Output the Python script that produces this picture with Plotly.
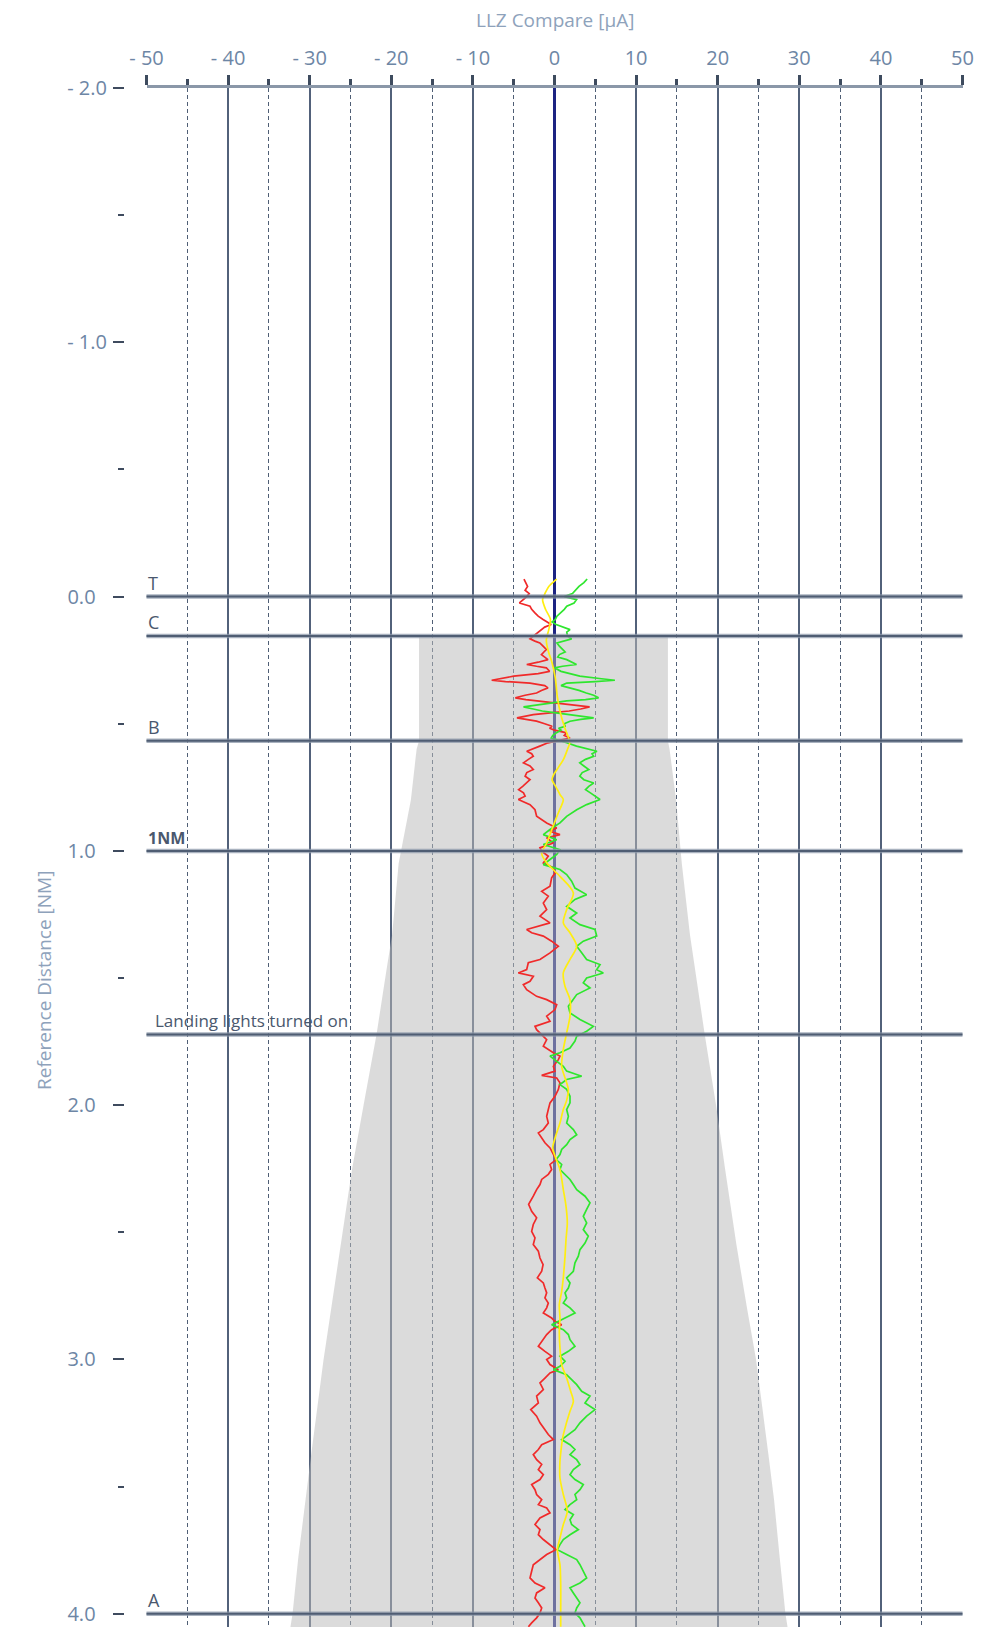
import plotly.graph_objects as go

# ---------------- data ----------------
x_ticks = [-50, -40, -30, -20, -10, 0, 10, 20, 30, 40, 50]
x_tick_labels = ["- 50", "- 40", "- 30", "- 20", "- 10", "0", "10", "20", "30", "40", "50"]
x_minor = [-45, -35, -25, -15, -5, 5, 15, 25, 35, 45]
y_ticks = [-2, -1, 0, 1, 2, 3, 4]
y_tick_labels = ["- 2.0", "- 1.0", "0.0\u2007", "1.0\u2007", "2.0\u2007", "3.0\u2007", "4.0\u2007"]
y_minor = [-1.5, -0.5, 0.5, 1.5, 2.5, 3.5]

marker_dist = [0.0, 0.155, 0.567, 1.0, 1.722, 4.0]
marker_labels = ["T", "C", "B", "<b>1NM</b>", "Landing lights turned on", "A"]

center_dist = [-2.0, 4.06]
center_value = [0, 0]

envelope_dist = [0.155, 0.567, 0.600, 0.800, 1.050, 1.330, 1.470, 1.720, 2.000, 2.250,
                 2.550, 2.800, 3.000, 3.370, 3.550, 3.780, 4.000, 4.060]
envelope_left = [-16.6, -16.6, -16.9, -17.6, -19.1, -19.9, -20.6, -21.8, -23.4, -24.8,
                 -26.2, -27.4, -28.3, -29.8, -30.5, -31.4, -32.1, -32.4]
envelope_right = [13.9, 13.9, 14.1, 14.9, 15.6, 16.6, 17.3, 18.4, 19.8, 20.9,
                  22.3, 23.6, 24.7, 26.2, 26.9, 27.6, 28.3, 28.6]

red_dist = [-0.069, -0.055, -0.040, -0.025, -0.012, 0.000, 0.012, 0.025, 0.038, 0.050,
            0.064, 0.077, 0.090, 0.100, 0.110, 0.120, 0.130, 0.140, 0.156, 0.166,
            0.175, 0.182, 0.195, 0.208, 0.218, 0.228, 0.238, 0.248, 0.258, 0.267,
            0.274, 0.280, 0.294, 0.303, 0.313, 0.322, 0.329, 0.334, 0.340, 0.350,
            0.359, 0.369, 0.379, 0.388, 0.398, 0.405, 0.410, 0.418, 0.425, 0.434,
            0.442, 0.450, 0.457, 0.464, 0.477, 0.483, 0.490, 0.500, 0.510, 0.518,
            0.525, 0.536, 0.546, 0.556, 0.565, 0.575, 0.588, 0.598, 0.608, 0.618,
            0.628, 0.640, 0.654, 0.666, 0.680, 0.692, 0.706, 0.720, 0.733, 0.746,
            0.759, 0.772, 0.785, 0.798, 0.818, 0.838, 0.864, 0.890, 0.910, 0.923,
            0.936, 0.949, 0.969, 0.988, 1.001, 1.021, 1.047, 1.067, 1.087, 1.106,
            1.139, 1.159, 1.178, 1.205, 1.231, 1.257, 1.283, 1.309, 1.322, 1.335,
            1.355, 1.375, 1.401, 1.427, 1.440, 1.467, 1.480, 1.493, 1.513, 1.526,
            1.546, 1.572, 1.585, 1.605, 1.624, 1.650, 1.670, 1.690, 1.703, 1.722,
            1.742, 1.768, 1.794, 1.807, 1.821, 1.847, 1.866, 1.883, 1.893, 1.912,
            1.938, 1.965, 1.991, 2.017, 2.044, 2.070, 2.096, 2.109, 2.129, 2.148,
            2.168, 2.187, 2.214, 2.233, 2.253, 2.272, 2.292, 2.312, 2.332, 2.358,
            2.390, 2.417, 2.443, 2.469, 2.496, 2.522, 2.548, 2.574, 2.601, 2.627,
            2.653, 2.679, 2.699, 2.719, 2.738, 2.758, 2.778, 2.797, 2.817, 2.837,
            2.850, 2.863, 2.883, 2.902, 2.922, 2.948, 2.968, 2.987, 3.000, 3.020,
            3.040, 3.053, 3.073, 3.092, 3.118, 3.144, 3.171, 3.197, 3.223, 3.249,
            3.276, 3.295, 3.315, 3.335, 3.354, 3.374, 3.394, 3.413, 3.433, 3.453,
            3.472, 3.492, 3.512, 3.531, 3.551, 3.571, 3.584, 3.603, 3.623, 3.649,
            3.669, 3.689, 3.708, 3.728, 3.748, 3.767, 3.787, 3.807, 3.833, 3.859,
            3.879, 3.898, 3.918, 3.938, 3.957, 3.977, 3.997, 4.016, 4.036, 4.051]
red_value = [-3.74, -3.50, -3.30, -3.60, -3.10, -3.40, -3.82, -4.30, -3.00, -2.80,
             -2.40, -2.00, -1.40, -0.90, -0.40, -1.20, -1.60, -2.00, -2.50, -3.00,
             -2.40, -1.80, -1.40, -1.00, -1.30, -1.60, -1.20, -0.80, -2.00, -3.40,
             -2.20, -1.00, -0.60, -2.00, -5.00, -6.80, -7.70, -6.00, -3.00, -1.20,
             -0.80, -1.60, -2.20, -3.60, -4.80, -3.50, -2.20, -0.50, 1.50, 4.30,
             3.20, 1.80, -0.50, -2.60, -4.60, -3.40, -2.20, -1.20, -0.30, -0.60,
             0.00, 1.50, 1.20, 1.90, 0.50, -0.80, -1.80, -2.60, -3.40, -2.80,
             -2.60, -3.20, -3.80, -3.00, -2.60, -3.40, -3.60, -3.00, -3.40, -3.90,
             -4.40, -3.80, -3.60, -4.43, -3.00, -2.39, -2.19, -0.96, 0.27, -0.55,
             0.67, -0.96, -0.14, -1.78, -1.57, -0.76, -1.37, -0.14, 0.06, -0.35,
             -0.55, -1.57, -0.76, -1.37, -0.96, -1.78, -0.55, -3.41, -2.80, -1.37,
             -0.35, 0.47, -0.55, -1.78, -3.21, -3.41, -4.43, -2.59, -3.00, -3.82,
             -3.41, -2.19, -0.96, 0.27, 0.06, -0.96, -0.55, -2.39, -2.19, -1.57,
             -0.96, -1.37, -0.14, 0.67, 0.47, -0.14, 0.06, -1.57, 0.27, 0.67,
             0.47, 0.06, -0.55, -0.76, -0.96, -0.76, -1.37, -1.98, -1.57, -1.17,
             -0.55, -0.22, 0.20, -0.55, -0.35, -0.76, -1.57, -1.78, -2.19, -2.60,
             -3.17, -2.80, -2.19, -2.60, -2.80, -2.39, -2.60, -1.98, -1.78, -1.40,
             -1.57, -2.10, -1.37, -1.17, -0.96, -1.17, -0.76, -0.96, -1.37, -0.35,
             0.06, 0.88, -0.35, -0.96, -1.37, -1.98, -1.17, -0.35, -0.96, -0.55,
             0.47, -0.55, -1.17, -1.78, -1.37, -2.19, -1.98, -2.91, -2.19, -1.78,
             -1.17, -0.76, -0.14, -1.57, -1.98, -2.60, -2.19, -1.57, -1.98, -1.37,
             -1.78, -2.80, -2.39, -2.19, -1.57, -1.98, -0.96, -0.55, -1.78, -2.39,
             -1.78, -1.98, -1.37, -0.55, 0.18, -0.96, -1.78, -2.60, -2.80, -3.00,
             -2.39, -1.17, -2.19, -2.39, -1.98, -1.57, -1.78, -2.19, -2.80, -3.20]

green_dist = [-0.069, -0.055, -0.040, -0.025, -0.012, 0.000, 0.012, 0.025, 0.038, 0.050,
              0.064, 0.077, 0.090, 0.100, 0.110, 0.120, 0.130, 0.140, 0.156, 0.166,
              0.175, 0.182, 0.195, 0.208, 0.218, 0.228, 0.238, 0.248, 0.258, 0.267,
              0.274, 0.280, 0.294, 0.303, 0.313, 0.322, 0.329, 0.334, 0.340, 0.350,
              0.359, 0.369, 0.379, 0.388, 0.398, 0.405, 0.410, 0.418, 0.425, 0.434,
              0.442, 0.450, 0.457, 0.464, 0.477, 0.483, 0.490, 0.500, 0.510, 0.518,
              0.525, 0.536, 0.546, 0.556, 0.565, 0.575, 0.588, 0.598, 0.608, 0.618,
              0.628, 0.640, 0.654, 0.666, 0.680, 0.692, 0.706, 0.720, 0.733, 0.746,
              0.759, 0.772, 0.785, 0.798, 0.818, 0.838, 0.864, 0.890, 0.916, 0.936,
              0.956, 0.975, 0.995, 1.014, 1.034, 1.054, 1.073, 1.093, 1.119, 1.146,
              1.172, 1.191, 1.218, 1.244, 1.264, 1.290, 1.309, 1.335, 1.355, 1.375,
              1.401, 1.427, 1.447, 1.467, 1.480, 1.500, 1.519, 1.539, 1.565, 1.592,
              1.611, 1.637, 1.663, 1.690, 1.709, 1.729, 1.748, 1.775, 1.794, 1.807,
              1.827, 1.847, 1.866, 1.886, 1.899, 1.919, 1.938, 1.965, 1.991, 2.017,
              2.044, 2.070, 2.096, 2.116, 2.135, 2.155, 2.174, 2.194, 2.214, 2.233,
              2.253, 2.272, 2.292, 2.312, 2.332, 2.358, 2.384, 2.410, 2.437, 2.463,
              2.489, 2.515, 2.542, 2.568, 2.594, 2.620, 2.653, 2.679, 2.699, 2.719,
              2.738, 2.758, 2.778, 2.797, 2.817, 2.837, 2.850, 2.863, 2.883, 2.902,
              2.922, 2.948, 2.968, 2.987, 3.007, 3.027, 3.040, 3.060, 3.079, 3.099,
              3.125, 3.144, 3.171, 3.197, 3.223, 3.249, 3.276, 3.295, 3.315, 3.335,
              3.354, 3.374, 3.394, 3.413, 3.433, 3.453, 3.472, 3.492, 3.512, 3.531,
              3.551, 3.571, 3.590, 3.610, 3.630, 3.649, 3.669, 3.689, 3.708, 3.728,
              3.748, 3.767, 3.787, 3.807, 3.833, 3.859, 3.879, 3.898, 3.918, 3.938,
              3.957, 3.977, 3.997, 4.016, 4.036, 4.051]
green_value = [4.00, 3.60, 3.00, 2.50, 2.20, 1.20, 2.70, 2.40, 1.50, 1.20,
               0.70, 0.30, 0.10, -0.30, 0.20, 1.20, 1.90, 1.50, 1.60, 2.10,
               1.20, 0.30, 0.60, 1.00, 1.30, 0.60, 0.40, 1.50, 2.20, 2.70,
               1.00, 0.00, 0.80, 2.00, 3.10, 5.50, 7.40, 5.00, 1.50, 0.80,
               2.00, 3.00, 3.90, 4.80, 5.40, 3.80, 1.50, -0.50, -2.00, -3.80,
               -2.60, -1.50, 0.20, 1.90, 4.80, 3.20, 1.90, 1.20, 1.30, 0.50,
               0.80, 0.20, -0.20, -0.40, 0.60, 1.50, 2.70, 4.00, 5.20, 4.60,
               4.80, 3.80, 3.10, 3.60, 4.20, 3.40, 3.10, 3.60, 4.80, 4.20,
               3.80, 4.40, 5.00, 5.58, 3.94, 2.72, 1.49, 0.67, -0.55, -1.37,
               0.27, -1.37, 0.67, 0.27, -0.55, -1.37, 0.67, 1.49, 2.10, 2.51,
               3.94, 2.51, 1.49, 2.72, 1.90, 3.12, 4.96, 5.17, 3.53, 2.72,
               3.33, 3.94, 5.58, 5.17, 5.98, 3.94, 3.53, 4.35, 2.72, 2.10,
               1.70, 1.90, 3.12, 4.76, 3.94, 2.72, 2.51, 1.90, 0.67, -0.55,
               0.27, 1.08, 1.49, 3.33, 1.49, 0.67, 1.49, 1.90, 1.90, 1.49,
               1.70, 1.49, 2.31, 2.72, 1.90, 1.49, 0.88, 0.67, 0.20, 0.88,
               0.67, 1.29, 1.90, 2.31, 2.72, 3.74, 4.35, 3.94, 3.53, 3.94,
               3.53, 4.14, 3.74, 3.12, 2.92, 2.51, 2.31, 1.49, 1.90, 1.70,
               1.29, 1.49, 1.08, 1.90, 2.51, 1.29, 0.47, -0.35, 1.08, 1.70,
               1.90, 2.51, 1.70, 0.67, 1.29, 0.67, -0.14, 1.49, 2.10, 2.72,
               3.33, 4.35, 3.74, 4.96, 3.94, 3.12, 2.51, 1.70, 0.88, 1.90,
               2.51, 1.90, 2.72, 3.12, 2.31, 1.90, 2.51, 3.53, 3.12, 2.51,
               2.72, 1.90, 1.29, 2.31, 1.90, 2.10, 2.92, 1.90, 1.08, 0.67,
               0.35, 1.49, 2.72, 3.12, 3.53, 3.94, 3.12, 1.90, 2.31, 2.72,
               3.12, 2.72, 2.51, 3.12, 3.53, 3.74]

yellow_dist = [-0.069, -0.040, -0.010, 0.012, 0.050, 0.090, 0.130, 0.170, 0.210, 0.260,
               0.320, 0.390, 0.460, 0.520, 0.553, 0.576, 0.600, 0.640, 0.680, 0.700,
               0.720, 0.750, 0.780, 0.798, 0.850, 0.900, 0.969, 1.010, 1.047, 1.100,
               1.165, 1.231, 1.283, 1.322, 1.375, 1.427, 1.480, 1.533, 1.585, 1.650,
               1.716, 1.781, 1.847, 1.912, 1.939, 1.980, 2.017, 2.070, 2.122, 2.168,
               2.200, 2.253, 2.332, 2.397, 2.463, 2.528, 2.594, 2.647, 2.679, 2.732,
               2.784, 2.837, 2.889, 2.955, 3.020, 3.073, 3.125, 3.164, 3.204, 3.256,
               3.308, 3.335, 3.400, 3.466, 3.531, 3.597, 3.649, 3.702, 3.748, 3.807,
               3.885, 3.990, 4.051]
yellow_value = [0.27, -0.70, -1.20, -1.46, -1.10, -0.50, -0.70, -1.00, -0.80, -0.30,
                0.10, 0.33, 0.74, 1.30, 1.70, 1.87, 1.60, 1.10, 0.30, -0.10,
                -0.30, 0.20, 0.70, 1.08, 0.47, -0.14, -0.96, -1.57, -0.96, 0.67,
                2.31, 1.49, 1.08, 1.90, 2.72, 1.90, 1.08, 1.29, 1.90, 1.90,
                1.49, 1.08, 0.88, 1.49, 1.70, 1.50, 1.08, 0.67, 0.14, -0.22,
                0.06, 0.67, 1.08, 1.41, 1.57, 1.41, 1.29, 1.16, 1.08, 0.88,
                0.59, 0.67, 0.59, 0.67, 0.88, 1.49, 1.98, 2.31, 1.90, 1.41,
                1.00, 0.88, 0.67, 0.67, 1.08, 1.57, 1.08, 0.67, 0.35, 0.67,
                0.76, 0.76, 0.76]

# ---------------- figure ----------------
W, H = 981, 1627
TOP = 88
FONT = "Open Sans"
TICK_COLOR = "#3e4b5e"
GRID_COLOR = "#52617a"
LABEL_COLOR = "#6d86a5"
TITLE_COLOR = "#8ea2bb"
MARK_COLOR = "#4a586e"

fig = go.Figure()

fig.add_trace(go.Scatter(x=center_value, y=center_dist, mode="lines",
                         line=dict(color="#1c2382", width=3),
                         hoverinfo="skip", showlegend=False))

env_x = envelope_left + envelope_right[::-1]
env_y = envelope_dist + envelope_dist[::-1]
fig.add_trace(go.Scatter(x=env_x, y=env_y, mode="lines", fill="toself",
                         fillcolor="rgba(186,186,186,0.52)", line=dict(width=0),
                         hoverinfo="skip", showlegend=False))

fig.add_trace(go.Scatter(x=red_value, y=red_dist, mode="lines",
                         line=dict(color="#f02a2a", width=1.7),
                         hoverinfo="skip", showlegend=False))
fig.add_trace(go.Scatter(x=green_value, y=green_dist, mode="lines",
                         line=dict(color="#2ee62e", width=1.7),
                         hoverinfo="skip", showlegend=False))
fig.add_trace(go.Scatter(x=yellow_value, y=yellow_dist, mode="lines",
                         line=dict(color="#ffee10", width=1.7, shape="spline", smoothing=0.8),
                         hoverinfo="skip", showlegend=False))

shapes = []
annotations = []
for d, lab in zip(marker_dist, marker_labels):
    shapes.append(dict(type="line", xref="x domain", x0=0, x1=1, yref="y", y0=d, y1=d,
                       line=dict(color="rgba(140,152,170,0.75)", width=4.5), layer="above"))
    shapes.append(dict(type="line", xref="x domain", x0=0, x1=1, yref="y", y0=d, y1=d,
                       line=dict(color="#4f5d73", width=2), layer="above"))
    long_label = len(lab) > 12
    size = 17 if long_label else (16 if "NM" in lab else 18)
    annotations.append(dict(x=-50, y=d, xref="x", yref="y", text=lab, showarrow=False,
                            xanchor="left", yanchor="bottom",
                            xshift=6 if long_label else -1, yshift=0,
                            font=dict(family=FONT, size=size, color=MARK_COLOR)))

annotations.append(dict(text="LLZ Compare [µA]", xref="x domain", x=0.5, yref="paper", y=1,
                        yshift=TOP - 20, xanchor="center", yanchor="middle", showarrow=False,
                        font=dict(family=FONT, size=19, color=TITLE_COLOR)))
annotations.append(dict(text="Reference Distance [NM]", xref="paper", x=44 / W, yref="paper",
                        y=(H - 981) / (H - TOP), xanchor="center", yanchor="middle",
                        textangle=-90, showarrow=False,
                        font=dict(family=FONT, size=19, color=TITLE_COLOR)))

fig.update_layout(
    width=W, height=H,
    margin=dict(l=0, r=0, t=TOP, b=0, pad=0),
    paper_bgcolor="white", plot_bgcolor="white",
    showlegend=False,
    shapes=shapes, annotations=annotations,
    xaxis=dict(domain=[146.5 / W, 962.5 / W], range=[-50, 50], side="top", anchor="y",
               tickmode="array", tickvals=x_ticks, ticktext=x_tick_labels,
               ticks="outside", ticklen=10, tickwidth=3, tickcolor=TICK_COLOR,
               ticklabelstandoff=2,
               showgrid=True, gridcolor=GRID_COLOR, gridwidth=1.5,
               showline=True, linecolor="#8a97a8", linewidth=3, zeroline=False,
               tickfont=dict(family=FONT, size=20, color=LABEL_COLOR),
               minor=dict(tickmode="array", tickvals=x_minor, ticks="outside", ticklen=6,
                          tickwidth=2.5, tickcolor=TICK_COLOR, showgrid=True,
                          gridcolor="#4f5e75", gridwidth=1.2, griddash="4px,3px"),
               automargin=False, fixedrange=True),
    yaxis=dict(domain=[0, 1], range=[4.052, -2], anchor="free", position=124 / W,
               tickmode="array", tickvals=y_ticks, ticktext=y_tick_labels,
               ticks="outside", ticklen=11, tickwidth=2, tickcolor=TICK_COLOR,
               ticklabelstandoff=2,
               showgrid=False, zeroline=False, showline=False,
               tickfont=dict(family=FONT, size=20, color=LABEL_COLOR),
               minor=dict(tickmode="array", tickvals=y_minor, ticks="outside", ticklen=6,
                          tickwidth=2, tickcolor=TICK_COLOR, showgrid=False),
               automargin=False, fixedrange=True),
)

fig.write_html("out.html")
